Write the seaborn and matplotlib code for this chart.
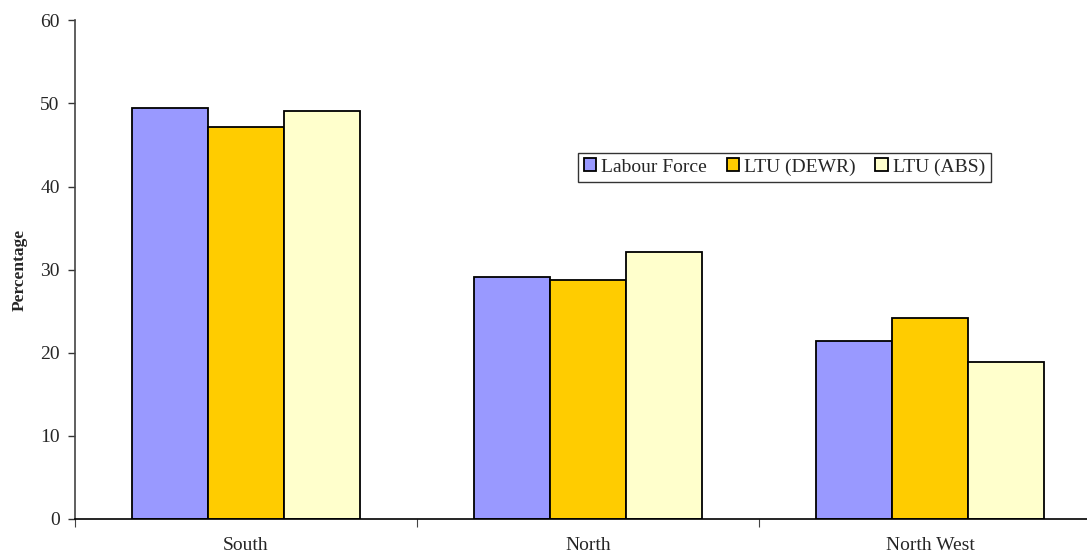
import matplotlib
matplotlib.use("Agg")
import matplotlib.pyplot as plt
import seaborn as sns
import pandas as pd

regions = ["South", "North", "North West"]
series = ["Labour Force", "LTU (DEWR)", "LTU (ABS)"]
labour_force = [49.5, 29.1, 21.4]
ltu_dewr = [47.2, 28.7, 24.1]
ltu_abs = [49.1, 32.1, 18.8]
colors = ["#9999FF", "#FFCC00", "#FFFFCC"]

df = pd.DataFrame({
    "Region": regions * 3,
    "Series": [s for s in series for _ in regions],
    "Value": labour_force + ltu_dewr + ltu_abs,
})

sns.set_style("white")
plt.rcParams["font.family"] = ["Liberation Serif", "DejaVu Serif"]

fig = plt.figure(figsize=(10.87, 5.54), dpi=100)
ax = fig.add_axes([75 / 1087, 35.5 / 554, 1026 / 1087, 498 / 554])

sns.barplot(data=df, x="Region", y="Value", hue="Series", order=regions,
            hue_order=series, palette=colors, saturation=1, width=0.667, gap=0,
            edgecolor="black", linewidth=1.3, ax=ax, errorbar=None)

ax.set_ylim(0, 60)
ax.set_xlim(-0.5, 2.5)
ax.set_yticks(range(0, 61, 10))
ax.tick_params(axis="y", labelsize=14, length=5, width=1, direction="out",
               color="#333333", pad=6, left=True)

# category boundaries carry the tick marks, labels sit at the centres
ax.set_xticks([-0.5, 0.5, 1.5], labels=["", "", ""])
ax.tick_params(axis="x", which="major", length=6, width=0.8, color="#444444",
               direction="out", bottom=True)
ax.set_xticks([0, 1, 2], labels=regions, minor=True)
ax.tick_params(axis="x", which="minor", length=0, pad=13, labelsize=14)

ax.set_xlabel("")
ax.set_ylabel("Percentage", fontsize=12.5, fontweight="bold")
ax.yaxis.set_label_coords(-47 / 1026, 0.5)

for side in ["top", "right"]:
    ax.spines[side].set_visible(False)
ax.spines["left"].set_color("#444444")
ax.spines["left"].set_linewidth(1.2)
ax.spines["bottom"].set_color("black")
ax.spines["bottom"].set_linewidth(1.2)

leg = ax.legend(ncol=3, loc="upper left", bbox_to_anchor=(503 / 1026, 1 - 132 / 498),
                frameon=True, fancybox=False, fontsize=14, handlelength=0.65,
                handleheight=0.65, handletextpad=0.25, columnspacing=1.0,
                borderpad=0.3, borderaxespad=0)
leg.get_frame().set_edgecolor("black")
leg.get_frame().set_linewidth(1.0)

fig.savefig("out.png", dpi=100)
